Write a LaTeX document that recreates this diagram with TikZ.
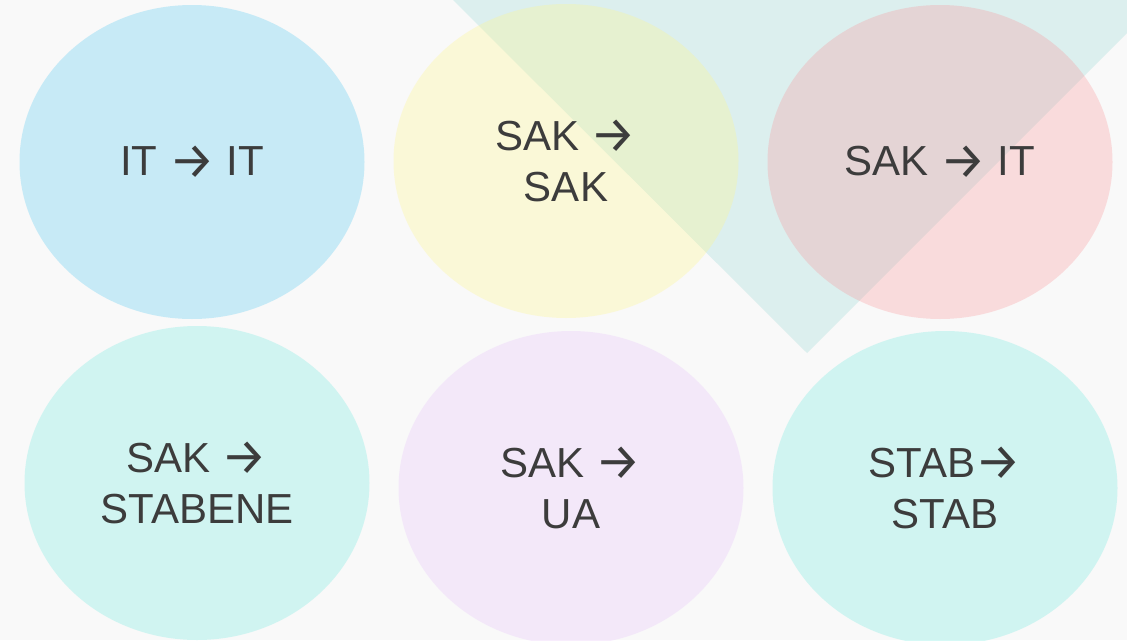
\documentclass[tikz,border=0pt]{standalone}
\usepackage{fontspec}
\setmainfont{Liberation Sans}
\newfontfamily\arrowfont{Fira Sans}
\newcommand\rarr{\raisebox{-2.5pt}{\arrowfont\fontsize{51}{51}\selectfont →}}
\usetikzlibrary{shapes.geometric}
\definecolor{bg}{RGB}{249,249,249}
\definecolor{tri}{RGB}{220,239,238}
\definecolor{cblue}{RGB}{86,202,242}
\definecolor{cyellow}{RGB}{255,246,139}
\definecolor{cpink}{RGB}{249,152,156}
\definecolor{cteal}{RGB}{116,235,225}
\definecolor{cpurple}{RGB}{232,196,249}
\definecolor{txt}{RGB}{60,60,60}
\tikzset{
  bubble/.style={ellipse, minimum width=345pt, minimum height=314pt, inner sep=0pt,
    fill opacity=0.3, text opacity=1, text=txt, align=center,
    font=\fontsize{42}{51}\selectfont},
}
\begin{document}
\begin{tikzpicture}[x=1pt,y=-1pt]
\fill[bg] (0,0) rectangle (1127,640);
\useasboundingbox (0,0) rectangle (1127,640);
\clip (0,0) rectangle (1127,640);
\fill[tri] (453,0) -- (807,353) -- (1160,0) -- cycle;
\node[bubble, fill=cblue] (itit) at (192,162) {IT \rarr{} IT};
\node[bubble, fill=cyellow] (saksak) at (566,161) {SAK \rarr\\SAK};
\node[bubble, fill=cpink] (sakit) at (940,162) {SAK \rarr{} IT};
\node[bubble, fill=cteal] (sakstab) at (197,483) {SAK \rarr\\STABENE};
\node[bubble, fill=cpurple] (sakua) at (571,488) {SAK \rarr\\UA};
\node[bubble, fill=cteal] (stabstab) at (945,488) {STAB\rarr\\STAB};
\end{tikzpicture}
\end{document}
